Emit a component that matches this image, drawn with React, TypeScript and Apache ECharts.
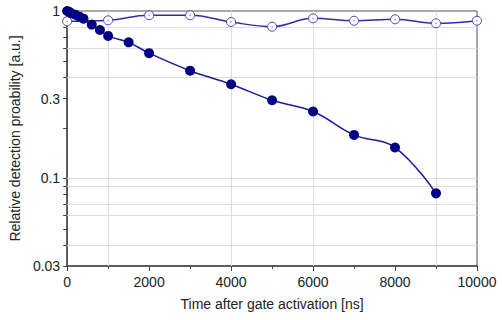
import React, { useEffect, useRef } from "react";
import * as echarts from "echarts";

const filledTimes = [0, 50, 100, 200, 300, 400, 600, 800, 1000, 1500, 2000, 3000, 4000, 5000, 6000, 7000, 8000, 9000];
const filledValues = [1.0, 0.99, 0.97, 0.95, 0.925, 0.9, 0.83, 0.77, 0.71, 0.65, 0.56, 0.44, 0.365, 0.293, 0.251, 0.182, 0.153, 0.0815];

const openTimes = [0, 1000, 2000, 3000, 4000, 5000, 6000, 7000, 8000, 9000, 10000];
const openValues = [0.868, 0.88, 0.943, 0.943, 0.86, 0.806, 0.904, 0.875, 0.892, 0.844, 0.875];

const yLabelValues = [0.03, 0.1, 0.3, 1];
const yTickValues = [0.03, 0.04, 0.05, 0.06, 0.07, 0.08, 0.09, 0.1, 0.2, 0.3, 0.4, 0.5, 0.6, 0.7, 0.8, 0.9, 1];
const yGridValues = [0.8, 0.6, 0.4, 0.1, 0.09, 0.07, 0.06, 0.04];
const xGridValues = [1000, 4000, 6000, 9000];

const FONT = "'Liberation Sans', Arial, sans-serif";

export default function App() {
  const ref = useRef<HTMLDivElement>(null);
  useEffect(() => {
    if (!ref.current) return;
    const chart = echarts.init(ref.current, null, { renderer: "svg" });
    const filled = filledTimes.map((t, i) => [t, filledValues[i]]);
    const open = openTimes.map((t, i) => [t, openValues[i]]);
    chart.setOption({
      animation: false,
      backgroundColor: "#ffffff",
      grid: {
        left: 66,
        right: 25,
        top: 11,
        bottom: 54,
        show: true,
        borderColor: "#555555",
        borderWidth: 1,
        backgroundColor: "transparent",
      },
      xAxis: {
        type: "value",
        min: 0,
        max: 10000,
        interval: 2000,
        name: "Time after gate activation [ns]",
        nameLocation: "middle",
        nameGap: 31,
        nameTextStyle: { fontFamily: FONT, fontSize: 14, color: "#222" },
        axisLine: { show: true, lineStyle: { color: "#444", width: 1.5 } },
        axisTick: { show: true, inside: false, length: 5, lineStyle: { color: "#444" } },
        minorTick: { show: true, splitNumber: 2, length: 3, lineStyle: { color: "#444" } },
        splitLine: { show: false },
        axisLabel: {
          fontFamily: FONT,
          fontSize: 14,
          color: "#222",
          margin: 9,
          formatter: (v: number) => String(v),
        },
      },
      yAxis: {
        type: "log",
        min: 0.03,
        max: 1,
        name: "Relative detection proability [a.u.]",
        nameLocation: "middle",
        nameGap: 35,
        nameTextStyle: { fontFamily: FONT, fontSize: 14, color: "#222" },
        axisLine: { show: true, lineStyle: { color: "#444", width: 1.5 } },
        axisTick: { show: true, inside: false, length: 4, customValues: yTickValues, lineStyle: { color: "#444" } },
        splitLine: { show: false },
        axisLabel: {
          fontFamily: FONT,
          fontSize: 14,
          color: "#222",
          margin: 7,
          customValues: yLabelValues,
          formatter: (v: number) => String(+v.toPrecision(3)),
        },
      },
      series: [
        {
          type: "line",
          data: open,
          smooth: 0.4,
          z: 3,
          symbol: "circle",
          symbolSize: 9,
          itemStyle: { color: "#ffffff", borderColor: "#4848c0", borderWidth: 1 },
          lineStyle: { color: "#2e2ea8", width: 1.5 },
          markLine: {
            silent: true,
            symbol: "none",
            z: 1,
            label: { show: false },
            lineStyle: { color: "#dddddd", width: 1, type: "solid" },
            data: [
              ...yGridValues.map((v) => ({ yAxis: v })),
              ...xGridValues.map((v) => ({ xAxis: v })),
            ],
          },
        },
        {
          type: "scatter",
          data: open,
          z: 4,
          symbol: "circle",
          symbolSize: 1.5,
          itemStyle: { color: "#6a6ad0" },
        },
        {
          type: "line",
          data: filled,
          smooth: 0.4,
          z: 5,
          symbol: "circle",
          symbolSize: 10,
          itemStyle: { color: "#000080" },
          lineStyle: { color: "#1c1c96", width: 1.5 },
        },
      ],
    });
    return () => chart.dispose();
  }, []);
  return <div ref={ref} style={{ position: "fixed", left: 0, top: 0, width: 502, height: 320 }} />;
}
